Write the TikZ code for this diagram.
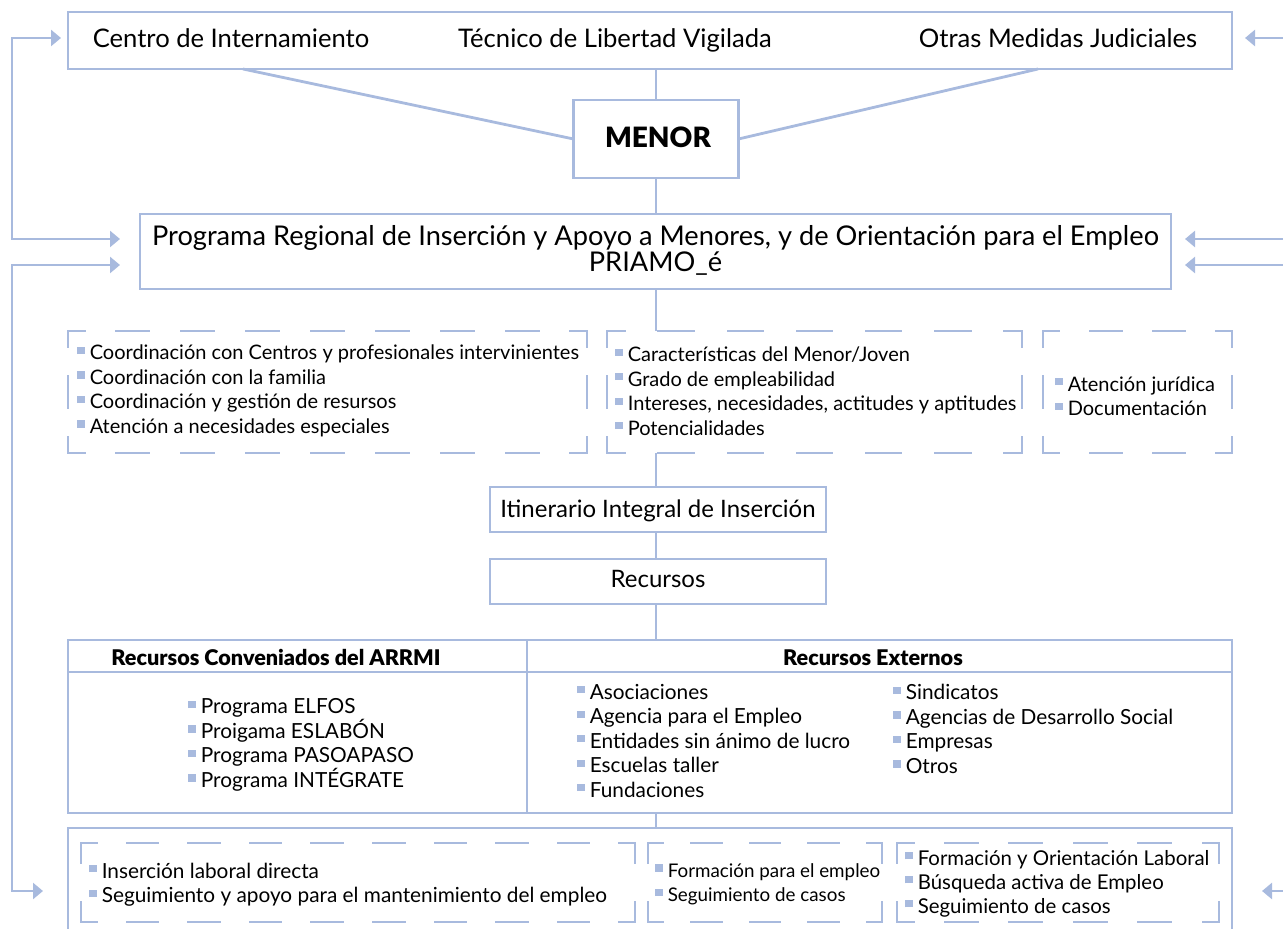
\documentclass[tikz,border=0pt]{standalone}
\usepackage{fontspec}
\setmainfont{Lato}
\newfontfamily\pesada{Lato Black}
\usetikzlibrary{arrows.meta,positioning,calc}

\definecolor{lila}{RGB}{168,186,222}
\newcommand\vi{\raisebox{2.9pt}{\textcolor{lila}{\rule{3.6pt}{3.6pt}}}\hspace{2.6pt}}
\newcommand\grande{\fontsize{12}{13}\selectfont}
\newcommand\chica{\fontsize{10}{12.25}\selectfont}
\newcommand\media{\fontsize{10.4}{12.25}\selectfont}
% borde a trazos, cada lado con sus propios guiones
\newcommand\bordeguion[3]{%
  \pgfmathsetmacro\gw{0.25*#2/max(1,round(#2/65))}%
  \pgfmathsetmacro\gwp{0.5*\gw}%
  \pgfmathsetmacro\gh{0.25*#3/max(1,round(#3/65))}%
  \pgfmathsetmacro\ghp{0.5*\gh}%
  \draw[guion, dash pattern=on \gw pt off \gw pt, dash phase=\gwp pt]
    (#1.north west) -- (#1.north east) (#1.south west) -- (#1.south east);
  \draw[guion, dash pattern=on \gh pt off \gh pt, dash phase=\ghp pt]
    (#1.north west) -- (#1.south west) (#1.north east) -- (#1.south east);
}

\tikzset{
  caja/.style={rectangle, draw=lila, line width=1.4pt, inner sep=0pt, outer sep=0pt},
  hueco/.style={rectangle, inner sep=0pt, outer sep=0pt},
  guion/.style={draw=lila, line width=1.4pt, line cap=rect},
  enlace/.style={draw=lila, line width=1.4pt},
  flecha/.style={enlace, {Triangle[length=5pt,width=8pt]}-{Triangle[length=5pt,width=8pt]}},
  flechauna/.style={enlace, -{Triangle[length=5pt,width=8pt]}},
  texto/.style={inner sep=0pt, anchor=base, font=\grande},
  cabeza/.style={inner sep=0pt, anchor=base, font=\fontsize{10.8}{12}\selectfont\pesada},
  lista/.style={inner sep=0pt, align=left, anchor=west, font=\chica},
}

\begin{document}
\begin{tikzpicture}[x=0.5pt, y=-0.5pt]
  \useasboundingbox (0,0) rectangle (1283,929);

  % arriba
  \node[caja, minimum width=582pt, minimum height=28.5pt] (top) at (650,40.5) {};
  \node[texto, font=\fontsize{12.8}{14}\selectfont] (centro) at (231,48) {Centro de Internamiento};
  \node[texto, font=\fontsize{12.8}{14}\selectfont] (tecnico) at (615,48) {Técnico de Libertad Vigilada};
  \node[texto, font=\fontsize{12.8}{14}\selectfont] (otras) at (1058,48) {Otras Medidas Judiciales};

  \node[caja, minimum width=82.5pt, minimum height=39pt] (menor) at (656,139) {};
  \node[texto, font=\fontsize{14}{16}\selectfont\pesada] (tmenor) at (658,148) {MENOR};

  \node[caja, minimum width=515.5pt, minimum height=37.5pt] (prog) at (655.5,251.5) {};
  \node[inner sep=0pt, align=center, font=\fontsize{13.6}{13}\selectfont] (tprog) at (655.5,250)
    {Programa Regional de Inserción y Apoyo a Menores, y de Orientación para el Empleo\\PRIAMO\_é};

  \coordinate (izq) at (243,69);
  \coordinate (der) at (1038,69);
  \draw[enlace] (menor.north) -- (menor.north |- top.south);
  \draw[enlace] (izq) -- (menor.west);
  \draw[enlace] (der) -- (menor.east);
  \draw[enlace] (menor.south) -- (menor.south |- prog.north);

  % bloques a trazos del centro
  \node[hueco, minimum width=259.5pt, minimum height=61pt] (mida) at (327.5,392) {};
  \node[hueco, minimum width=207.5pt, minimum height=61pt] (midb) at (814.5,392) {};
  \node[hueco, minimum width=94.5pt, minimum height=61pt] (midc) at (1137.5,392) {};
  \bordeguion{mida}{519}{122}
  \bordeguion{midb}{415}{122}
  \bordeguion{midc}{189}{122}

  \node[lista] (lmida) at ([xshift=4.5pt,yshift=0.5pt]mida.west)
    {\vi Coordinación con Centros y profesionales intervinientes\\
     \vi Coordinación con la familia\\
     \vi Coordinación y gestión de resursos\\
     \vi Atención a necesidades especiales};
  \node[lista] (lmidb) at ([xshift=4pt,yshift=0.5pt]midb.west)
    {\vi Características del Menor/Joven\\
     \vi Grado de empleabilidad\\
     \vi Intereses, necesidades, actitudes y aptitudes\\
     \vi Potencialidades};
  \node[lista] (lmidc) at ([xshift=6pt,yshift=-2pt]midc.west)
    {\vi Atención jurídica\\
     \vi Documentación};

  \node[caja, minimum width=168pt, minimum height=22.5pt] (itin) at (658,509.5) {};
  \node[texto] (titin) at (658,517) {Itinerario Integral de Inserción};
  \node[caja, minimum width=168pt, minimum height=22.5pt] (recu) at (658,581.5) {};
  \node[texto] (trecu) at (658,588) {Recursos};

  \draw[enlace] (prog.south -| menor) -- (midb.north -| menor);
  \draw[enlace] (midb.south -| menor) -- (itin.north -| menor);
  \draw[enlace] (itin.south -| menor) -- (recu.north -| menor);

  % tabla de recursos
  \node[caja, minimum width=582pt, minimum height=86.5pt] (tabla) at (650,726.5) {};
  \coordinate (div) at (527,640);
  \draw[enlace] ([yshift=-16pt]tabla.north west) -- ([yshift=-16pt]tabla.north east);
  \draw[enlace] (div) -- (div |- tabla.south);
  \draw[enlace] (recu.south -| menor) -- (tabla.north -| menor);

  \node[cabeza] (hconv) at (276,665) {Recursos Conveniados del ARRMI};
  \node[cabeza] (hext) at (873,665) {Recursos Externos};

  \node[lista, font=\media] (lconv) at (188,745)
    {\vi Programa ELFOS\\
     \vi Proigama ESLABÓN\\
     \vi Programa PASOAPASO\\
     \vi Programa INTÉGRATE};
  \node[lista, font=\media] (lexta) at (577,740.5)
    {\vi Asociaciones\\
     \vi Agencia para el Empleo\\
     \vi Entidades sin ánimo de lucro\\
     \vi Escuelas taller\\
     \vi Fundaciones};
  \node[lista, font=\media] (lextb) at (893,729)
    {\vi Sindicatos\\
     \vi Agencias de Desarrollo Social\\
     \vi Empresas\\
     \vi Otros};

  % abajo
  \node[caja, minimum width=582pt, minimum height=56pt] (fondo) at (650,884) {};
  \draw[enlace] (tabla.south -| menor) -- (fondo.north -| menor);

  \node[hueco, minimum width=277pt, minimum height=39.5pt] (bota) at (358,882.5) {};
  \node[hueco, minimum width=117pt, minimum height=39.5pt] (botb) at (765,882.5) {};
  \node[hueco, minimum width=161pt, minimum height=39.5pt] (botc) at (1058,882.5) {};
  \bordeguion{bota}{554}{79}
  \bordeguion{botb}{234}{79}
  \bordeguion{botc}{322}{79}

  \node[lista, font=\media] (lbota) at ([xshift=4pt,yshift=-1pt]bota.west)
    {\vi Inserción laboral directa\\
     \vi Seguimiento y apoyo para el mantenimiento del empleo};
  \node[lista, font=\fontsize{9.4}{12.25}\selectfont] (lbotb) at ([xshift=3.5pt,yshift=-1pt]botb.west)
    {\vi Formación para el empleo\\
     \vi Seguimiento de casos};
  \node[lista, font=\fontsize{10.2}{12}\selectfont] (lbotc) at ([xshift=4pt,yshift=-0.5pt]botc.west)
    {\vi Formación y Orientación Laboral\\
     \vi Búsqueda activa de Empleo\\
     \vi Seguimiento de casos};

  % flechas laterales
  \coordinate (railA) at (12,138);
  \coordinate (railB) at (12,580);
  \draw[flecha] ([xshift=-3.5pt,yshift=1.25pt]top.west) -| (railA) |- ([xshift=-10pt,yshift=6.25pt]prog.west);
  \draw[flecha] ([xshift=-10pt,yshift=-6.75pt]prog.west) -| (railB) |- ([xshift=-12.5pt,yshift=-3.5pt]fondo.west);

  \coordinate (entA) at (1290,38);
  \coordinate (entB) at (1290,239);
  \coordinate (entC) at (1290,265);
  \coordinate (entD) at (1290,891);
  \draw[flechauna, shorten >=6.5pt] (entA) -- (entA -| top.east);
  \draw[flechauna, shorten >=7pt] (entB) -- (entB -| prog.east);
  \draw[flechauna, shorten >=7pt] (entC) -- (entC -| prog.east);
  \draw[flechauna, shorten >=15pt] (entD) -- (entD -| fondo.east);
\end{tikzpicture}
\end{document}
